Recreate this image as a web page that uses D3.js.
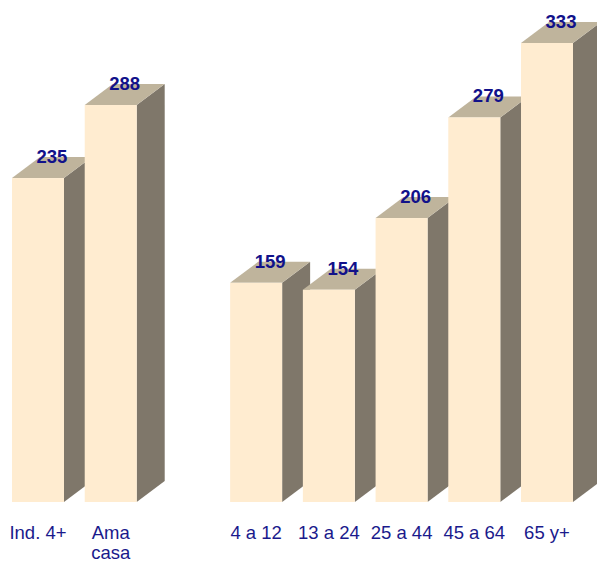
<!DOCTYPE html>
<html>
<head>
<meta charset="utf-8">
<script src="https://cdn.jsdelivr.net/npm/d3@7"></script>
<style>
  body { margin: 0; background: #fff; }
  svg { display: block; }
</style>
</head>
<body>
<svg id="chart" width="597" height="563"></svg>
<script>
// categories ('' is the empty slot between the two groups)
const categories = ['Ind. 4+', 'Ama\ncasa', '', '4 a 12', '13 a 24', '25 a 44', '45 a 64', '65 y+'];
const values = [235, 288, null, 159, 154, 206, 279, 333];

const baseline = 502;
const depthX = 28;
const depthY = 21;
const font = "'Liberation Sans', Arial, sans-serif";

const svg = d3.select('#chart');

const x = d3.scaleBand()
    .domain(categories)
    .range([12, 573])
    .paddingInner(0.285)
    .paddingOuter(0);

const y = d3.scaleLinear()
    .domain([0, 333])
    .range([baseline, 43]);

const data = categories.map((c, i) => ({ cat: c, value: values[i] }))
    .filter(d => d.value !== null);

const bars = svg.append('g').attr('class', 'bars')
    .selectAll('g')
    .data(data)
    .join('g');

// side face
bars.append('path')
    .attr('fill', '#7f776a')
    .attr('d', (d) => {
        const x1 = x(d.cat) + x.bandwidth();
        const top = y(d.value);
        return `M${x1},${baseline}L${x1 + depthX},${baseline - depthY}L${x1 + depthX},${top - depthY}L${x1},${top}Z`;
    });

// top face
bars.append('path')
    .attr('fill', '#bfb49c')
    .attr('d', (d) => {
        const x0 = x(d.cat);
        const x1 = x0 + x.bandwidth();
        const top = y(d.value);
        return `M${x0},${top}L${x0 + depthX},${top - depthY}L${x1 + depthX},${top - depthY}L${x1},${top}Z`;
    });

// front face
bars.append('rect')
    .attr('fill', '#ffecd0')
    .attr('x', d => x(d.cat))
    .attr('y', d => y(d.value))
    .attr('width', x.bandwidth())
    .attr('height', d => baseline - y(d.value));

// value labels
bars.append('text')
    .attr('x', d => x(d.cat) + x.bandwidth() / 2 + depthX / 2)
    .attr('y', d => y(d.value) - 15)
    .attr('text-anchor', 'middle')
    .attr('font-family', font)
    .attr('font-weight', 'bold')
    .attr('font-size', 18.5)
    .attr('fill', '#11118a')
    .text(d => d.value);

// category labels
const labels = svg.append('g').attr('class', 'xlabels')
    .selectAll('text')
    .data(categories.filter(c => c !== ''))
    .join('text')
    .attr('x', d => x(d) + x.bandwidth() / 2)
    .attr('y', 539)
    .attr('text-anchor', 'middle')
    .attr('font-family', font)
    .attr('font-size', 18.5)
    .attr('fill', '#1a1a8c');

labels.selectAll('tspan')
    .data(d => d.split('\n').map(line => ({ line, cx: x(d) + x.bandwidth() / 2 })))
    .join('tspan')
    .attr('x', d => d.cx)
    .attr('dy', (d, i) => (i === 0 ? 0 : 20))
    .text(d => d.line);
</script>
</body>
</html>
